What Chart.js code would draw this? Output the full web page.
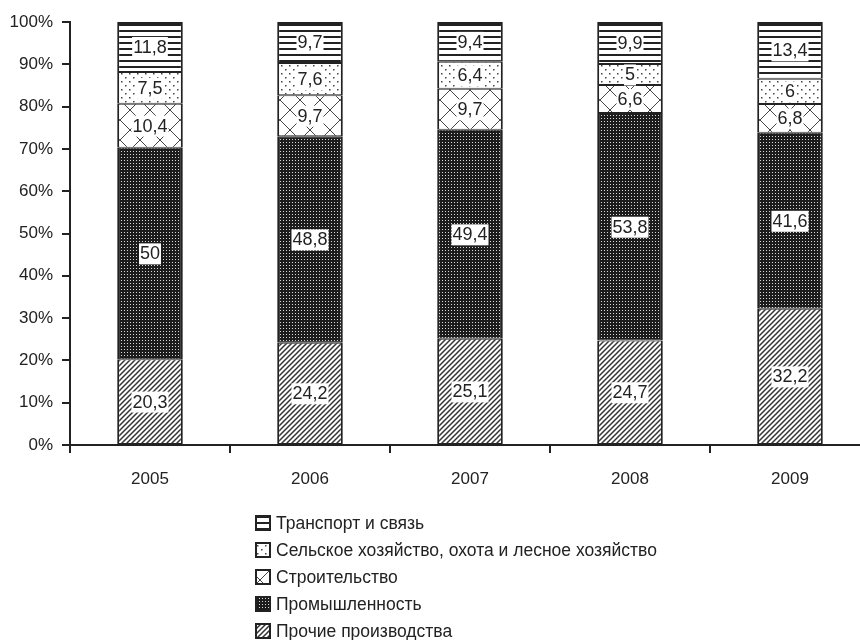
<!DOCTYPE html>
<html>
<head>
<meta charset="utf-8">
<script src="https://cdn.jsdelivr.net/npm/chart.js@4/dist/chart.umd.min.js"></script>
<style>
  html, body { margin: 0; padding: 0; background: #fff; overflow: hidden; }
  #wrap { width: 880px; height: 640px; }
</style>
</head>
<body>
<div id="wrap"><canvas id="chart" width="880" height="640"></canvas></div>
<script>
const years = ['2005', '2006', '2007', '2008', '2009'];
const prochie = [20.3, 24.2, 25.1, 24.7, 32.2];
const promysh = [50, 48.8, 49.4, 53.8, 41.6];
const stroit = [10.4, 9.7, 9.7, 6.6, 6.8];
const selhoz = [7.5, 7.6, 6.4, 5, 6];
const transport = [11.8, 9.7, 9.4, 9.9, 13.4];
const yTicks = [0, 10, 20, 30, 40, 50, 60, 70, 80, 90, 100];

const FONT = '"Liberation Sans", Arial, sans-serif';
const INK = '#222';

// small tiles for the hatch fills
function tile(w, h, draw) {
  const c = document.createElement('canvas');
  c.width = w; c.height = h;
  const g = c.getContext('2d');
  draw(g, w, h);
  return document.getElementById('chart').getContext('2d').createPattern(c, 'repeat');
}

const patDiag = tile(5, 5, (g, s) => {
  g.fillStyle = '#fff'; g.fillRect(0, 0, s, s);
  g.strokeStyle = '#333'; g.lineWidth = 1.5;
  g.beginPath();
  g.moveTo(0, s); g.lineTo(s, 0);
  g.moveTo(-1, 1); g.lineTo(1, -1);
  g.moveTo(s - 1, s + 1); g.lineTo(s + 1, s - 1);
  g.stroke();
});
const patDots = tile(3, 3, (g) => {
  g.fillStyle = '#1c1c1c'; g.fillRect(0, 0, 3, 3);
  g.fillStyle = '#d8d8d8'; g.fillRect(1, 1, 1, 1);
});
const patCross = tile(20, 20, (g, s) => {
  g.fillStyle = '#fff'; g.fillRect(0, 0, s, s);
  g.strokeStyle = '#444'; g.lineWidth = 1;
  g.beginPath();
  g.moveTo(0, 0); g.lineTo(s, s);
  g.moveTo(s, 0); g.lineTo(0, s);
  g.stroke();
});
const patSpeck = tile(8, 8, (g) => {
  g.fillStyle = '#fff'; g.fillRect(0, 0, 8, 8);
  g.fillStyle = '#444';
  g.fillRect(1, 1, 1.5, 1.5);
  g.fillRect(5, 5, 1.5, 1.5);
});
const patLines = tile(6, 6, (g) => {
  g.fillStyle = '#fff'; g.fillRect(0, 0, 6, 6);
  g.fillStyle = '#222'; g.fillRect(0, 0, 6, 2);
});

const bw = { top: 1, bottom: 1, left: 2, right: 2 };
const datasets = [
  { label: 'Прочие производства', data: prochie, backgroundColor: patDiag },
  { label: 'Промышленность', data: promysh, backgroundColor: patDots },
  { label: 'Строительство', data: stroit, backgroundColor: patCross },
  { label: 'Сельское хозяйство, охота и лесное хозяйство', data: selhoz, backgroundColor: patSpeck },
  { label: 'Транспорт и связь', data: transport, backgroundColor: patLines, borderWidth: { top: 3, bottom: 1, left: 2, right: 2 } }
].map(d => Object.assign({
  borderColor: INK, borderWidth: bw, borderSkipped: false,
  barPercentage: 0.41, categoryPercentage: 1
}, d));

// value boxes in the middle of each segment
const valueLabels = {
  id: 'valueLabels',
  afterDatasetsDraw(chart) {
    const ctx = chart.ctx;
    ctx.save();
    ctx.font = '18px ' + FONT;
    ctx.textAlign = 'center';
    ctx.textBaseline = 'middle';
    chart.data.datasets.forEach((ds, i) => {
      chart.getDatasetMeta(i).data.forEach((bar, j) => {
        const txt = String(ds.data[j]).replace('.', ',');
        const y = (bar.y + bar.base) / 2;
        const w = ctx.measureText(txt).width + 2;
        ctx.fillStyle = '#fff';
        ctx.fillRect(bar.x - w / 2, y - 10, w, 21);
        ctx.fillStyle = INK;
        ctx.fillText(txt, bar.x, y + 1);
      });
    });
    ctx.restore();
  }
};

// vertical legend below the axis, top series first
const stackLegend = {
  id: 'stackLegend',
  afterDraw(chart) {
    const ctx = chart.ctx;
    ctx.save();
    ctx.font = '17.5px ' + FONT;
    ctx.textBaseline = 'middle';
    const items = chart.data.datasets.slice().reverse();
    items.forEach((ds, k) => {
      const y = 523 + k * 27;
      ctx.fillStyle = ds.backgroundColor;
      ctx.fillRect(256, y - 7, 14, 14);
      ctx.strokeStyle = INK;
      ctx.lineWidth = 2;
      ctx.strokeRect(256, y - 7, 14, 14);
      ctx.fillStyle = INK;
      ctx.fillText(ds.label, 276, y + 1);
    });
    ctx.restore();
  }
};

new Chart(document.getElementById('chart'), {
  type: 'bar',
  data: { labels: years, datasets: datasets },
  plugins: [valueLabels, stackLegend],
  options: {
    responsive: false,
    animation: false,
    layout: { padding: { top: 22, right: 10, left: 0, bottom: 0 } },
    plugins: { legend: { display: false }, tooltip: { enabled: false } },
    scales: {
      x: {
        stacked: true,
        grid: { drawOnChartArea: false, tickLength: 8, color: INK, lineWidth: 2, offset: true },
        border: { color: INK, width: 2 },
        ticks: { color: INK, font: { size: 17, family: FONT }, padding: 16 },
        afterFit(s) { s.height = 195; }
      },
      y: {
        stacked: true,
        min: 0,
        max: 100,
        afterBuildTicks(s) { s.ticks = yTicks.map(v => ({ value: v })); },
        grid: { drawOnChartArea: false, tickLength: 8, color: INK, lineWidth: 2 },
        border: { color: INK, width: 2 },
        ticks: { color: INK, font: { size: 17, family: FONT }, padding: 9, callback: v => v + '%' },
        afterFit(s) { s.width = 70; }
      }
    }
  }
});
</script>
</body>
</html>
